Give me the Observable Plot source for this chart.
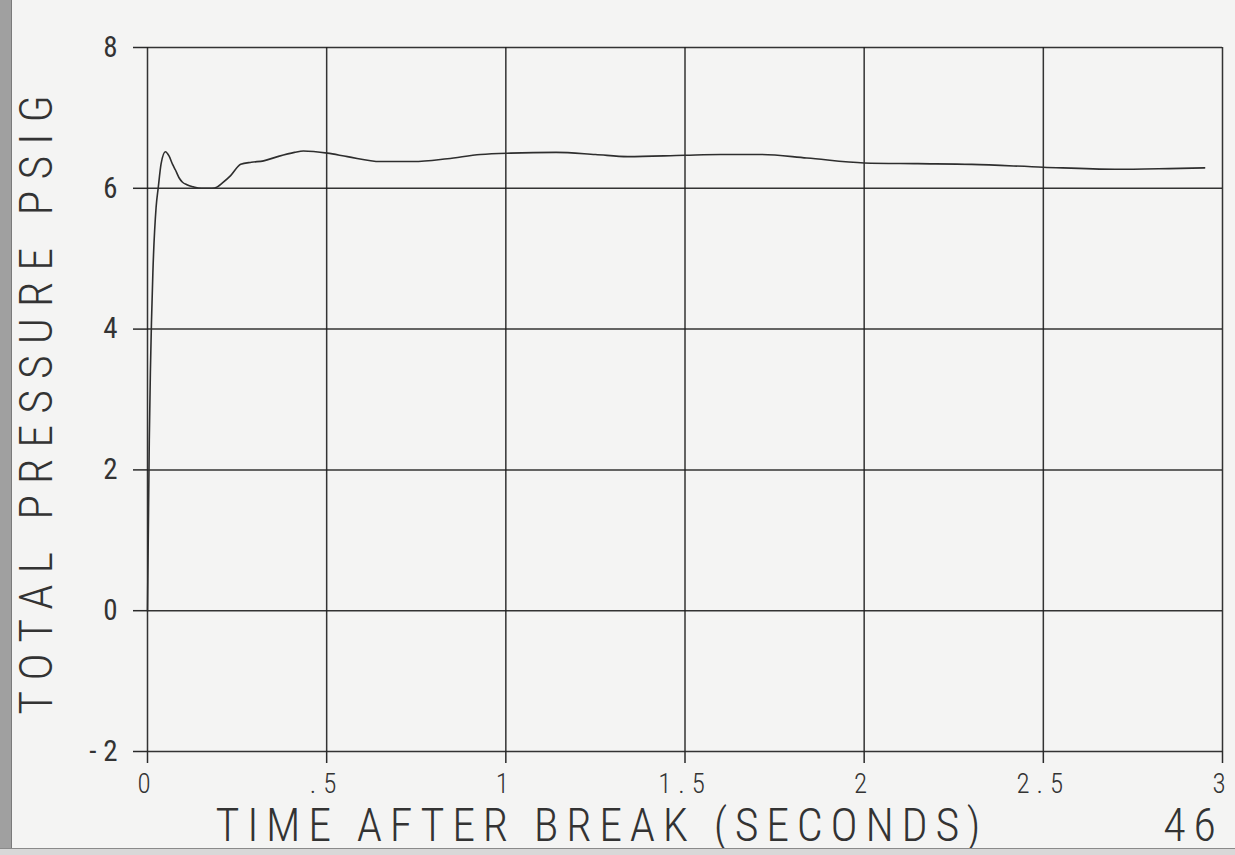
<!DOCTYPE html>
<html>
<head>
<meta charset="utf-8">
<script src="https://cdn.jsdelivr.net/npm/d3@7"></script>
<script src="https://cdn.jsdelivr.net/npm/@observablehq/plot@0.6"></script>
<style>
  html, body { margin: 0; padding: 0; background: #f4f4f3; }
  #wrap { position: relative; width: 1235px; height: 855px; overflow: hidden; }
  #edgeL { position: absolute; left: 0; top: 0; width: 11px; height: 855px; background: #a0a0a0; border-right: 1px solid #7a7a7a; }
  #edgeB { position: absolute; left: 0; top: 848px; width: 1235px; height: 7px; background: #d8d8d8; border-top: 1px solid #8a8a8a; }
</style>
</head>
<body>
<div id="wrap"><div id="chart"></div><div id="edgeL"></div><div id="edgeB"></div></div>
<script>
// Time after break (seconds)
const time = [0, 0.005, 0.008, 0.015, 0.024, 0.03, 0.038, 0.05, 0.06, 0.07, 0.078, 0.088, 0.097, 0.11, 0.128, 0.15, 0.18, 0.195, 0.21, 0.232, 0.26, 0.29, 0.324, 0.363, 0.41, 0.435, 0.502, 0.558, 0.65, 0.742, 0.837, 0.929, 1.013, 1.14, 1.25, 1.34, 1.5, 1.6, 1.71, 1.84, 2.0, 2.15, 2.3, 2.5, 2.7, 2.85, 2.95];
// Total pressure (psig)
const pressure = [0, 2.43, 3.38, 4.8, 5.73, 6.01, 6.35, 6.52, 6.46, 6.34, 6.26, 6.15, 6.09, 6.05, 6.02, 6.0, 6.0, 6.02, 6.08, 6.18, 6.34, 6.37, 6.39, 6.45, 6.51, 6.53, 6.5, 6.45, 6.38, 6.38, 6.42, 6.48, 6.5, 6.51, 6.48, 6.45, 6.47, 6.48, 6.48, 6.43, 6.36, 6.35, 6.34, 6.30, 6.27, 6.28, 6.29];
const xTicks = [0, 0.5, 1, 1.5, 2, 2.5, 3];
const xTickLabels = ["0", ".5", "1", "1.5", "2", "2.5", "3"];
const yTicks = [-2, 0, 2, 4, 6, 8];
const yTickLabels = ["- 2", "0", "2", "4", "6", "8"];
const xTitle = "TIME AFTER BREAK (SECONDS)";
const yTitle = "TOTAL PRESSURE PSIG";
const figNumber = "46";

const data = time.map((t, i) => ({t, p: pressure[i]}));
const thin = "'Roboto Condensed', 'DejaVu Sans Condensed', 'Liberation Sans Narrow', Roboto, sans-serif";

const chart = Plot.plot({
  width: 1235,
  height: 855,
  marginLeft: 147,
  marginRight: 13,
  marginTop: 47,
  marginBottom: 104,
  style: {background: "transparent", color: "#2a2a2a"},
  x: {domain: [0, 3]},
  y: {domain: [-2, 8]},
  marks: [
    Plot.gridX(xTicks, {stroke: "#1e1e1e", strokeOpacity: 0.9, strokeWidth: 1.5}),
    Plot.gridY(yTicks, {stroke: "#1e1e1e", strokeOpacity: 0.9, strokeWidth: 1.5}),
    Plot.axisX(xTicks, {
      tickSize: 12, tickPadding: 10, strokeWidth: 1.5,
      tickFormat: d => xTickLabels[xTicks.indexOf(d)],
      fontSize: 27, fontFamily: thin, fontWeight: 300, fill: "#333",
      label: null
    }),
    Plot.axisY(yTicks, {
      tickSize: 14, tickPadding: 16, strokeWidth: 1.5,
      tickFormat: d => yTickLabels[yTicks.indexOf(d)],
      fontSize: 29, fontFamily: thin, fontWeight: 400, fill: "#333",
      label: null
    }),
    Plot.line(data, {x: "t", y: "p", curve: "monotone-x", stroke: "#2e2e2e", strokeWidth: 1.6}),
    Plot.text([yTitle], {frameAnchor: "left", textAnchor: "middle", lineAnchor: "middle", dx: -110, rotate: -90, fontSize: 46, fontFamily: thin, fontWeight: 300, fill: "#333"}),
    Plot.text([xTitle], {frameAnchor: "bottom-left", textAnchor: "start", lineAnchor: "middle", dx: 68, dy: 75, fontSize: 46, fontFamily: thin, fontWeight: 300, fill: "#333"}),
    Plot.text([figNumber], {frameAnchor: "bottom-right", textAnchor: "end", lineAnchor: "middle", dx: 1, dy: 75, fontSize: 46, fontFamily: thin, fontWeight: 300, fill: "#333"})
  ]
});
document.getElementById("chart").appendChild(chart);

// letter spacing like the plotter lettering
d3.select(chart).selectAll('g[aria-label="x-axis tick label"] text').style("letter-spacing", "7px");
d3.select(chart).selectAll('g[aria-label="text"] text').each(function() {
  const s = d3.select(this);
  if (s.text() === yTitle) s.style("letter-spacing", "11px");
  else s.style("letter-spacing", "7.7px");
});
</script>
</body>
</html>
